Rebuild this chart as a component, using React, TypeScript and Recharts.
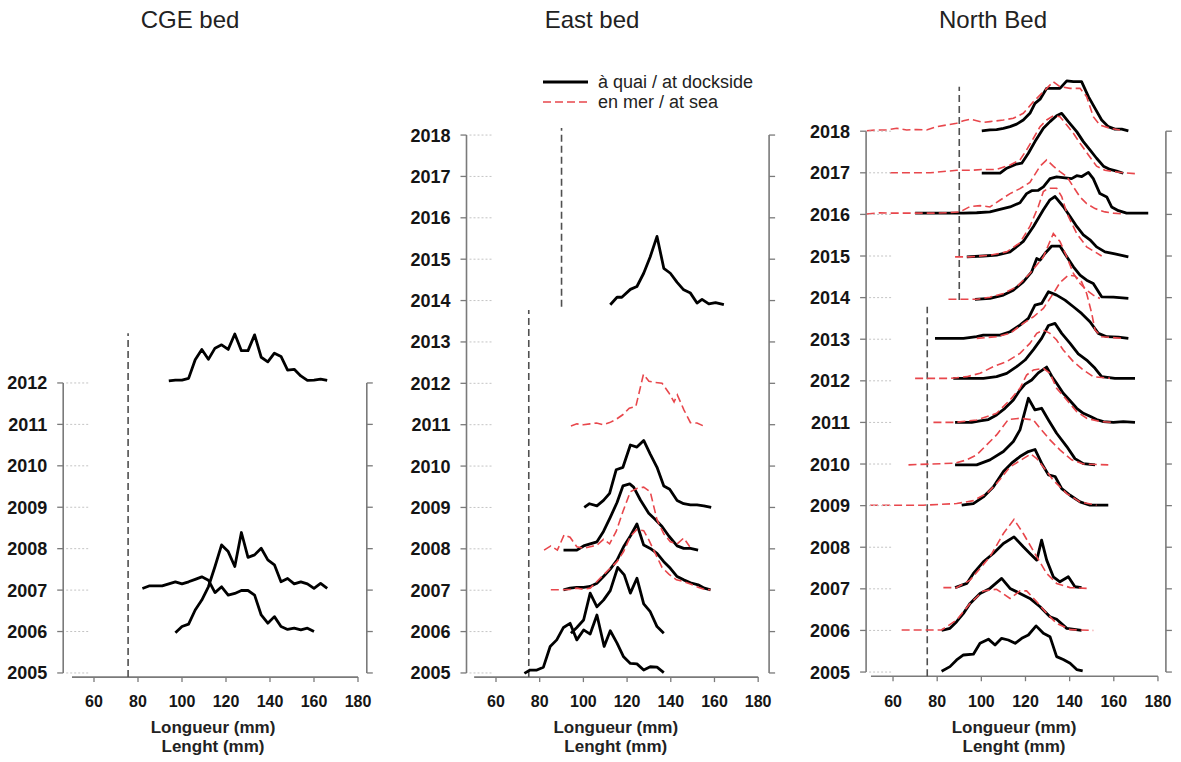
import React from "react";
import { LineChart, Line, XAxis, YAxis, ReferenceLine, Label } from "recharts";

type P = [number, number];
const FONT = "'Liberation Sans', Arial, Helvetica, sans-serif";

// ---------- tick labels ----------
const lengthTicks = [60, 80, 100, 120, 140, 160, 180];
const cgeYears = [2005, 2006, 2007, 2008, 2009, 2010, 2011, 2012];
const eastYears = [2005, 2006, 2007, 2008, 2009, 2010, 2011, 2012, 2013, 2014, 2015, 2016, 2017, 2018];
const northYears = [2005, 2006, 2007, 2008, 2009, 2010, 2011, 2012, 2013, 2014, 2015, 2016, 2017, 2018];

// ---------- CGE bed (dockside) : [length mm, ridge position] ----------
const cge2012Dock: P[] = [[94,2012.05],[97,2012.07],[100,2012.07],[103,2012.11],[106,2012.56],[109,2012.81],[112,2012.57],[115,2012.84],[118,2012.92],[121,2012.81],[124,2013.18],[127,2012.78],[130,2012.78],[133,2013.16],[136,2012.62],[139,2012.51],[142,2012.72],[145,2012.64],[148,2012.31],[151,2012.33],[154,2012.17],[157,2012.06],[160,2012.07],[163,2012.09],[166,2012.06]];
const cge2007Dock: P[] = [[82,2007.04],[85,2007.1],[88,2007.1],[91,2007.1],[94,2007.15],[97,2007.2],[100,2007.15],[103,2007.2],[106,2007.26],[109,2007.32],[112,2007.24],[115,2006.94],[118,2007.08],[121,2006.88],[124,2006.92],[127,2006.99],[130,2006.99],[133,2006.88],[136,2006.4],[139,2006.2],[142,2006.36],[145,2006.12],[148,2006.05],[151,2006.08],[154,2006.04],[157,2006.08],[160,2006.0]];
const cge2006Dock: P[] = [[97,2005.97],[100,2006.12],[103,2006.18],[106,2006.52],[109,2006.76],[112,2007.08],[115,2007.57],[118,2008.09],[121,2007.93],[124,2007.57],[127,2008.39],[130,2007.79],[133,2007.85],[136,2008.01],[139,2007.73],[142,2007.61],[145,2007.2],[148,2007.28],[151,2007.15],[154,2007.2],[157,2007.15],[160,2007.04],[163,2007.16],[166,2007.04]];

// ---------- East bed ----------
const east2005Dock: P[] = [[73,2004.99],[75.6,2005.07],[78.7,2005.07],[81.7,2005.14],[84.8,2005.64],[87.8,2005.8],[90.9,2006.1],[93.9,2006.2],[97,2005.8],[100.1,2006.04],[103.1,2005.94],[106.2,2006.4],[109.5,2005.64],[112.3,2006.02],[115.4,2005.72],[118.4,2005.39],[121.5,2005.23],[124.5,2005.22],[127.6,2005.07],[130.6,2005.15],[133.7,2005.14],[136.8,2005.01]];
const east2006Dock: P[] = [[94.3,2005.96],[97,2006.1],[100.1,2006.28],[103.1,2006.93],[106.2,2006.6],[109.2,2006.76],[112.3,2006.99],[115.7,2007.55],[118.7,2007.37],[121.5,2006.93],[124.5,2007.29],[127.6,2006.67],[130.6,2006.48],[133.7,2006.12],[136.8,2005.96]];
const east2007Dock: P[] = [[90.9,2007.01],[93.9,2007.05],[97,2007.07],[100.1,2007.07],[103.1,2007.09],[106.2,2007.17],[109.2,2007.33],[112.3,2007.51],[115.4,2007.73],[118.4,2008.05],[121.5,2008.31],[124.5,2008.6],[127.6,2008.09],[130.6,2008.01],[133.7,2007.89],[136.8,2007.69],[139.8,2007.53],[142.9,2007.33],[145.9,2007.25],[149,2007.18],[152.5,2007.13],[155.4,2007.05],[158.2,2007.01]];
const east2007Sea: P[] = [[85.1,2007.01],[87.8,2007.01],[90.9,2007.01],[93.9,2007.02],[97,2007.05],[100.1,2007.02],[103.1,2007.05],[106.2,2007.21],[109.2,2007.37],[112.3,2007.53],[115.4,2007.69],[118.4,2007.93],[121.5,2008.3],[124.5,2008.47],[127.6,2008.44],[129.9,2008.22],[132.9,2007.89],[136,2007.55],[139.1,2007.39],[142.6,2007.25],[145.9,2007.21],[149,2007.15],[152.5,2007.07],[155.4,2007.02],[158.2,2007.01]];
const east2008Dock: P[] = [[90.9,2007.97],[97,2007.97],[100.1,2008.07],[103.1,2008.12],[106.2,2008.17],[109.2,2008.42],[112.3,2008.76],[115.4,2009.12],[118.1,2009.52],[121.2,2009.57],[123,2009.49],[126.1,2009.18],[129.9,2008.86],[132.9,2008.71],[136,2008.54],[139.1,2008.31],[142.9,2008.07],[145.9,2008.01],[149,2008.01],[152.5,2007.97]];
const east2008Sea: P[] = [[82,2007.97],[85.1,2008.07],[88.1,2007.97],[91.2,2008.34],[93.9,2008.28],[97,2008.05],[100.1,2008.01],[103.1,2008.05],[106.2,2008.09],[109.2,2008.23],[112,2008.12],[115,2008.42],[118.1,2008.9],[121.5,2009.38],[124.5,2009.46],[127.6,2009.49],[130.6,2009.38],[133.7,2008.7],[136.8,2008.36],[139.8,2008.17],[142.9,2008.12],[145.9,2008.26],[148.7,2008.05]];
const east2009Dock: P[] = [[100.4,2009.0],[102.8,2009.09],[106.2,2009.04],[109.2,2009.17],[112,2009.34],[115,2009.91],[118.1,2009.97],[121.5,2010.51],[124.5,2010.46],[127.6,2010.62],[130.6,2010.29],[133.7,2009.97],[136.8,2009.52],[139.5,2009.44],[142.9,2009.17],[145.9,2009.09],[149,2009.06],[152,2009.06],[155.1,2009.04],[158.5,2009.0]];
const east2011Sea: P[] = [[94.3,2010.97],[97,2011.02],[100,2011.0],[103,2011.02],[106,2011.04],[109,2011.0],[112,2011.05],[115,2011.13],[118,2011.24],[121,2011.4],[124,2011.44],[127.5,2012.22],[130,2012.05],[133,2012.02],[136,2012.0],[139,2011.78],[141.5,2011.55],[143,2011.72],[146,2011.36],[149,2011.05],[152,2011.04],[155,2010.97]];
const east2014Dock: P[] = [[112.3,2013.9],[115.4,2014.08],[117.6,2014.08],[121.5,2014.27],[124.5,2014.34],[127.6,2014.66],[130.6,2015.06],[133.7,2015.55],[136.8,2014.78],[139.8,2014.66],[142.9,2014.44],[145.9,2014.26],[149,2014.18],[152,2013.94],[154.3,2014.03],[157.4,2013.92],[160.5,2013.95],[164.3,2013.9]];

// ---------- North bed ----------
const north2005Dock: P[] = [[82,2005.02],[85.8,2005.13],[88.8,2005.29],[91.9,2005.41],[96.4,2005.43],[99.4,2005.69],[103.2,2005.79],[106.2,2005.65],[109.2,2005.81],[112.2,2005.77],[115.3,2005.69],[118.3,2005.81],[121.3,2005.89],[124.8,2006.11],[128.1,2005.93],[131.1,2005.85],[134.1,2005.37],[137.1,2005.3],[140.2,2005.21],[143.2,2005.06],[145.9,2005.03]];
const north2006Dock: P[] = [[82,2006.0],[85.8,2006.05],[88.8,2006.21],[91.9,2006.41],[94.9,2006.65],[99.4,2006.89],[103.9,2007.01],[109.2,2007.25],[113,2007.01],[117.5,2006.89],[122,2006.77],[126.6,2006.57],[131.1,2006.33],[134.1,2006.27],[138.7,2006.05],[145.4,2006.0]];
const north2006Sea: P[] = [[63.9,2006.01],[73.7,2006.01],[82,2006.01],[88.8,2006.25],[94.9,2006.65],[100.9,2006.95],[106.9,2006.99],[113,2006.77],[117.5,2006.95],[120.5,2006.95],[125.1,2006.69],[129.6,2006.41],[134.1,2006.17],[140.2,2006.02],[150.7,2006.0]];
const north2007Dock: P[] = [[88.1,2007.03],[93.4,2007.13],[96.4,2007.37],[100.9,2007.65],[105.4,2007.85],[110,2008.09],[114.8,2008.25],[119,2008.01],[122,2007.85],[125.1,2007.69],[127.3,2008.17],[129.6,2007.69],[132.6,2007.29],[135.6,2007.17],[139.4,2007.29],[142.4,2007.05],[145.4,2007.03]];
const north2007Sea: P[] = [[82.8,2007.03],[88.8,2007.03],[94.9,2007.21],[99.4,2007.49],[103.9,2007.77],[110,2008.33],[114.8,2008.67],[119,2008.33],[125.1,2007.77],[129.6,2007.37],[134.1,2007.13],[140.2,2007.03],[147.7,2007.01]];
const north2009Dock: P[] = [[91.1,2009.01],[96.4,2009.05],[100.9,2009.21],[105.4,2009.45],[110,2009.82],[113.7,2010.02],[117.5,2010.18],[121.3,2010.3],[124.3,2010.35],[127.3,2010.02],[130.4,2009.74],[133.4,2009.7],[136.4,2009.41],[140.2,2009.25],[144.7,2009.09],[149.2,2009.01],[157.5,2009.01]];
const north2009Sea: P[] = [[49.6,2009.01],[61.7,2009.01],[73.7,2009.01],[88.8,2009.05],[96.4,2009.12],[102.4,2009.29],[106.9,2009.53],[113,2009.93],[119,2010.13],[122.4,2010.24],[125.1,2010.13],[128.1,2009.93],[132.6,2009.61],[138.7,2009.29],[144.7,2009.09],[152.2,2009.01]];
const north2010Dock: P[] = [[88.1,2009.98],[93.4,2009.98],[97.9,2009.98],[103.9,2010.1],[110,2010.3],[114.5,2010.54],[117.5,2010.82],[121.3,2011.58],[124.3,2011.3],[127.3,2011.34],[130.4,2011.06],[134.1,2010.74],[138.7,2010.42],[142.4,2010.13],[146.2,2010.01],[151.5,2009.98]];
const north2010Sea: P[] = [[67,2009.98],[76.8,2010.0],[88.1,2010.02],[93.4,2010.1],[97.9,2010.22],[102.4,2010.46],[106.9,2010.7],[112.2,2011.07],[117.5,2011.1],[123.6,2011.06],[126.6,2010.86],[131.1,2010.58],[135.6,2010.34],[140.9,2010.1],[146.2,2010.0],[157.5,2009.98]];
const north2011Dock: P[] = [[88.1,2011.0],[91.9,2011.0],[95.6,2011.0],[99.4,2011.04],[103.2,2011.07],[106.9,2011.18],[110.7,2011.34],[114.5,2011.54],[117.5,2011.78],[119.8,2011.92],[122.8,2012.02],[125.8,2012.19],[129.6,2012.33],[131.9,2012.11],[134.1,2011.94],[137.1,2011.7],[140.2,2011.52],[143.2,2011.34],[146.2,2011.22],[149.2,2011.15],[152.2,2011.07],[155.3,2011.02],[159.8,2011.0],[164.3,2011.02],[169.6,2011.0]];
const north2011Sea: P[] = [[78.3,2011.0],[88.1,2011.0],[97.9,2011.06],[106.9,2011.22],[113,2011.54],[117.5,2011.82],[120.5,2012.14],[123.6,2012.26],[128.1,2012.3],[131.1,2012.18],[134.1,2011.82],[138.7,2011.54],[143.2,2011.26],[147.7,2011.1],[153.7,2011.02],[159.8,2011.0]];
const north2012Dock: P[] = [[87.3,2012.06],[94.9,2012.06],[100.9,2012.06],[106.9,2012.1],[111.5,2012.18],[116,2012.34],[119.8,2012.5],[123.6,2012.75],[127.3,2013.02],[130.4,2013.33],[133.4,2013.38],[136.4,2013.14],[140.2,2012.9],[143.9,2012.65],[147.7,2012.5],[151.5,2012.3],[154.5,2012.1],[160.5,2012.06],[169.6,2012.06]];
const north2012Sea: P[] = [[70,2012.06],[78.3,2012.06],[85.8,2012.06],[93.4,2012.1],[99.4,2012.18],[105.4,2012.34],[111.5,2012.46],[117.5,2012.66],[122,2012.9],[125.1,2013.14],[128.1,2013.22],[131.1,2013.14],[134.1,2012.98],[137.1,2012.74],[141.7,2012.46],[146.2,2012.26],[150.7,2012.1],[158.3,2012.06]];
const north2013Dock: P[] = [[79,2013.02],[85.8,2013.02],[91.9,2013.02],[97.9,2013.06],[100.9,2013.1],[108.5,2013.1],[113,2013.18],[117.5,2013.34],[121.3,2013.5],[124.3,2013.82],[127.3,2013.86],[130.4,2014.14],[134.1,2014.06],[137.9,2013.94],[141.7,2013.78],[145.4,2013.62],[149.2,2013.42],[153,2013.14],[156.8,2013.06],[162.1,2013.05],[166.6,2013.02]];
const north2013Sea: P[] = [[97.9,2013.02],[106.9,2013.06],[113,2013.14],[119,2013.38],[123.6,2013.54],[128.1,2013.74],[132.6,2014.1],[135.6,2014.36],[139.4,2014.54],[142.4,2014.52],[145.4,2014.38],[147.7,2014.1],[150,2013.62],[151.5,2013.22],[154.5,2013.06],[164.3,2013.02]];
const north2014Dock: P[] = [[97.1,2013.96],[103.9,2013.98],[110,2014.06],[114.5,2014.18],[119,2014.38],[122.8,2014.62],[125.1,2014.94],[126.6,2014.9],[128.8,2015.06],[131.9,2015.24],[135.6,2015.24],[138.7,2014.98],[141.7,2014.74],[144.7,2014.54],[147.7,2014.42],[150.7,2014.34],[154.5,2014.02],[159.8,2014.01],[166.6,2013.98]];
const north2014Sea: P[] = [[85.1,2013.96],[91.9,2013.96],[97.9,2013.96],[103.9,2014.01],[110,2014.1],[116,2014.26],[122,2014.58],[128.1,2014.98],[132.6,2015.54],[135.6,2015.35],[138.7,2014.98],[141.7,2014.58],[144.7,2014.34],[147.7,2014.18],[150.7,2014.06],[153.7,2013.98]];
const north2015Dock: P[] = [[93.4,2014.98],[100.9,2015.0],[106.9,2015.02],[113,2015.1],[119,2015.35],[123.6,2015.71],[128.1,2016.11],[131.1,2016.35],[133.4,2016.43],[137.1,2016.19],[140.2,2015.95],[143.2,2015.71],[146.2,2015.51],[149.2,2015.39],[152.2,2015.22],[156,2015.1],[160.5,2015.05],[166.6,2014.98]];
const north2015Sea: P[] = [[88.1,2014.98],[94.9,2014.98],[103.9,2015.02],[111.5,2015.1],[117.5,2015.32],[122,2015.71],[125.8,2016.19],[128.1,2016.55],[130.4,2016.63],[134.1,2016.63],[136.4,2016.43],[138.7,2016.03],[143.2,2015.54],[147.7,2015.22],[154.5,2015.0]];
const north2016Dock: P[] = [[70,2016.03],[76.8,2016.03],[84.3,2016.03],[91.9,2016.03],[97.9,2016.04],[103.9,2016.06],[108.4,2016.12],[113,2016.18],[117.5,2016.28],[120.5,2016.5],[122.8,2016.57],[125.8,2016.58],[128.1,2016.66],[131.1,2016.86],[134.1,2016.9],[137.9,2016.88],[140.9,2016.86],[143.2,2016.93],[145.5,2016.91],[148.5,2017.01],[150.7,2016.86],[153.7,2016.5],[156.8,2016.42],[159,2016.18],[162.1,2016.09],[165.8,2016.03],[169.6,2016.03],[175.6,2016.03]];
const north2016Sea: P[] = [[48.1,2016.01],[54.1,2016.04],[60.2,2016.03],[66.2,2016.03],[72.2,2016.03],[78.3,2016.03],[84.3,2016.04],[90.3,2016.06],[94.9,2016.19],[99.4,2016.21],[103.9,2016.18],[108.4,2016.34],[113,2016.5],[117.5,2016.62],[122,2016.77],[126.6,2017.16],[129.6,2017.31],[132.6,2017.16],[135.6,2017.03],[138.7,2016.91],[141.7,2016.66],[144.7,2016.42],[147.7,2016.26],[151.5,2016.14],[156,2016.06],[159.8,2016.03],[164.3,2016.01]];
const north2017Dock: P[] = [[100.2,2016.99],[103.9,2016.99],[108.5,2016.99],[111.5,2017.11],[116,2017.21],[118.3,2017.23],[121.3,2017.47],[124.3,2017.75],[128.1,2018.07],[131.1,2018.23],[134.1,2018.37],[136.4,2018.43],[139.4,2018.23],[143.2,2017.99],[146.2,2017.75],[149.2,2017.55],[152.2,2017.35],[155.3,2017.16],[158.3,2017.08],[161.3,2017.04],[164.3,2016.99]];
const north2017Sea: P[] = [[58.6,2017.0],[64.7,2017.0],[70.7,2017.0],[76.8,2017.0],[82.8,2017.03],[88.8,2017.06],[94.9,2017.06],[100.9,2017.08],[106.9,2017.08],[113,2017.19],[117.5,2017.31],[120.5,2017.55],[123.6,2017.83],[126.6,2018.11],[129.6,2018.27],[132.6,2018.37],[135.6,2018.35],[138.7,2018.15],[141.7,2017.95],[144.7,2017.71],[148.5,2017.43],[152.2,2017.16],[156,2017.06],[159.8,2017.03],[164.3,2017.0],[169.6,2016.98]];
const north2018Dock: P[] = [[100.2,2018.01],[103.9,2018.03],[106.9,2018.04],[110,2018.07],[113,2018.11],[116,2018.17],[119,2018.27],[122,2018.43],[124.3,2018.67],[126.6,2018.77],[129.6,2019.03],[132.6,2019.03],[135.6,2019.03],[138.7,2019.21],[141.7,2019.19],[145.4,2019.19],[148.5,2018.83],[151.5,2018.55],[154.5,2018.27],[157.5,2018.11],[160.5,2018.05],[163.6,2018.05],[166.6,2018.01]];
const north2018Sea: P[] = [[48.1,2018.01],[52.6,2018.03],[57.1,2018.03],[61.7,2018.07],[66.2,2018.03],[70.7,2018.04],[75.2,2018.03],[79.8,2018.11],[84.3,2018.15],[88.8,2018.19],[91.9,2018.25],[94.9,2018.29],[97.9,2018.25],[100.9,2018.21],[103.9,2018.23],[110,2018.27],[114.5,2018.31],[119,2018.43],[123.6,2018.71],[128.1,2018.95],[132.6,2019.19],[135.6,2019.07],[140.2,2019.03],[144.7,2019.03],[147.7,2018.83],[150.7,2018.35],[153.7,2018.15],[158.3,2018.07],[162.8,2018.03]];

// ---------- minimum size reference lines: [length, from], [length, to] ----------
const cgeLimits: P[][] = [[[75.5, 2004.9], [75.5, 2013.2]]];
const eastLimits: P[][] = [[[90, 2013.85], [90, 2018.17]], [[75, 2004.9], [75, 2013.77]]];
const northLimits: P[][] = [[[90, 2013.94], [90, 2019.07]], [[75.5, 2004.9], [75.5, 2013.78]]];

type PanelCfg = {
  key: string;
  title: string;
  titleX: number;
  xDomain: [number, number];
  yDomain: [number, number];
  box: { left: number; right: number; top: number; bottom: number };
  years: number[];
  dock: P[][];
  sea: P[][];
  limits: P[][];
};

const panels: PanelCfg[] = [
  {
    key: "cge", title: "CGE bed", titleX: 190,
    xDomain: [46, 184], yDomain: [2004.9, 2014],
    box: { left: 63.2, right: 366.8, top: 300.1, bottom: 677.1 },
    years: cgeYears, dock: [cge2012Dock, cge2007Dock, cge2006Dock], sea: [], limits: cgeLimits,
  },
  {
    key: "east", title: "East bed", titleX: 592,
    xDomain: [46.5, 185], yDomain: [2004.9, 2020],
    box: { left: 466.5, right: 769.1, top: 52.3, bottom: 677.1 },
    years: eastYears,
    dock: [east2005Dock, east2006Dock, east2007Dock, east2008Dock, east2009Dock, east2014Dock],
    sea: [east2007Sea, east2008Sea, east2011Sea],
    limits: eastLimits,
  },
  {
    key: "north", title: "North Bed", titleX: 993,
    xDomain: [47.8, 183.6], yDomain: [2004.9, 2020],
    box: { left: 866.1, right: 1165.9, top: 48, bottom: 676.2 },
    years: northYears,
    dock: [north2005Dock, north2006Dock, north2007Dock, north2009Dock, north2010Dock, north2011Dock, north2012Dock, north2013Dock, north2014Dock, north2015Dock, north2016Dock, north2017Dock, north2018Dock],
    sea: [north2006Sea, north2007Sea, north2009Sea, north2010Sea, north2011Sea, north2012Sea, north2013Sea, north2014Sea, north2015Sea, north2016Sea, north2017Sea, north2018Sea],
    limits: northLimits,
  },
];

const W = 1181;
const H = 762;
const AXIS = "#7a7a7a";
const RED = "#e8474c";
const YW = 60;
const XH = 30;

const toPts = (arr: P[]) => arr.map(([x, y]) => ({ x, y }));

function makeYTick(left: number, right: number) {
  return (props: any) => {
    const { y, payload } = props;
    return (
      <g>
        <text x={left - 16} y={y} dy={6.5} textAnchor="end" fontSize={18} fontWeight="bold" fill="#151515" fontFamily={FONT}>
          {payload.value}
        </text>
        <line x1={left - 6} x2={left} y1={y} y2={y} stroke={AXIS} strokeWidth={1.3} />
        <line x1={left + 3} x2={left + 26} y1={y} y2={y} stroke="#c4c4c4" strokeWidth={1} strokeDasharray="2 2" />
        <line x1={right} x2={right + 6} y1={y} y2={y} stroke={AXIS} strokeWidth={1.3} />
      </g>
    );
  };
}

function Panel({ cfg }: { cfg: PanelCfg }) {
  const { box } = cfg;
  const margin = {
    top: box.top,
    right: W - box.right,
    bottom: H - box.bottom - XH,
    left: box.left - YW,
  };
  const cx = (box.left + box.right) / 2 - 2;
  const topYear = cfg.years[cfg.years.length - 1];
  return (
    <div style={{ position: "absolute", left: 0, top: 0, width: W, height: H }}>
      <LineChart width={W} height={H} margin={margin}>
        <XAxis
          type="number"
          dataKey="x"
          domain={cfg.xDomain}
          allowDataOverflow
          ticks={lengthTicks}
          interval={0}
          axisLine={false}
          tickLine={{ stroke: AXIS, strokeWidth: 1.3 }}
          tickSize={5}
          tickMargin={14}
          height={XH}
          tick={{ fontSize: 16, fontWeight: "bold", fill: "#151515", fontFamily: FONT }}
        >
          <Label
            content={() => (
              <g>
                <text x={cx} y={733} textAnchor="middle" fontSize={17} fontWeight="bold" fill="#222" fontFamily={FONT}>
                  Longueur (mm)
                </text>
                <text x={cx} y={752} textAnchor="middle" fontSize={17} fontWeight="bold" fill="#222" fontFamily={FONT}>
                  Lenght (mm)
                </text>
              </g>
            )}
          />
        </XAxis>
        <YAxis
          type="number"
          dataKey="y"
          domain={cfg.yDomain}
          allowDataOverflow
          ticks={cfg.years}
          interval={0}
          width={YW}
          axisLine={false}
          tickLine={false}
          tick={makeYTick(box.left, box.right)}
        />
        <ReferenceLine segment={[{ x: cfg.xDomain[0], y: 2005 }, { x: cfg.xDomain[0], y: topYear }]} stroke={AXIS} strokeWidth={1.6} />
        <ReferenceLine segment={[{ x: cfg.xDomain[1], y: 2005 }, { x: cfg.xDomain[1], y: topYear }]} stroke={AXIS} strokeWidth={1.6} />
        <ReferenceLine segment={[{ x: 50, y: cfg.yDomain[0] }, { x: 180, y: cfg.yDomain[0] }]} stroke={AXIS} strokeWidth={1.6} />
        {cfg.limits.map((seg, i) => (
          <ReferenceLine
            key={`lim${i}`}
            segment={[{ x: seg[0][0], y: seg[0][1] }, { x: seg[1][0], y: seg[1][1] }]}
            stroke="#505050"
            strokeWidth={1.6}
            strokeDasharray="7 4"
          />
        ))}
        {cfg.dock.map((c, i) => (
          <Line
            key={`d${i}`}
            data={toPts(c)}
            dataKey="y"
            type="linear"
            stroke="#000"
            strokeWidth={2.8}
            strokeLinejoin="round"
            dot={false}
            activeDot={false}
            isAnimationActive={false}
            legendType="none"
          />
        ))}
        {cfg.sea.map((c, i) => (
          <Line
            key={`s${i}`}
            data={toPts(c)}
            dataKey="y"
            type="linear"
            stroke={RED}
            strokeWidth={1.6}
            strokeDasharray="8 4"
            dot={false}
            activeDot={false}
            isAnimationActive={false}
            legendType="none"
          />
        ))}
      </LineChart>
    </div>
  );
}

export default function App() {
  return (
    <div style={{ position: "absolute", left: 0, top: 0, width: W, height: H, background: "#fff", overflow: "hidden", fontFamily: FONT }}>
      {panels.map((p) => (
        <Panel key={p.key} cfg={p} />
      ))}
      <svg width={W} height={H} style={{ position: "absolute", left: 0, top: 0, pointerEvents: "none" }}>
        {panels.map((p) => (
          <text key={p.key} x={p.titleX} y={28} textAnchor="middle" fontSize={24} fill="#222" fontFamily={FONT}>
            {p.title}
          </text>
        ))}
        <g>
          <line x1={543} x2={588} y1={82} y2={82} stroke="#000" strokeWidth={2.8} />
          <text x={598} y={88} fontSize={18} fill="#222" fontFamily={FONT}>à quai / at dockside</text>
          <line x1={543} x2={588} y1={102} y2={102} stroke={RED} strokeWidth={1.6} strokeDasharray="8 4" />
          <text x={598} y={108} fontSize={18} fill="#222" fontFamily={FONT}>en mer / at sea</text>
        </g>
      </svg>
    </div>
  );
}
